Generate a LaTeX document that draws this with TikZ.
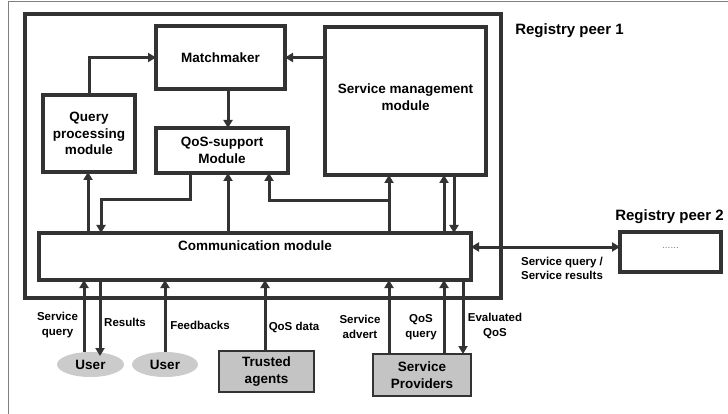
\documentclass[tikz,border=0pt]{standalone}
\usepackage{fontspec}
\setmainfont{Liberation Sans}
\usetikzlibrary{arrows.meta,shapes.geometric}
\definecolor{lc}{HTML}{333333}
\definecolor{fillg}{HTML}{C4C4C4}
\definecolor{fille}{HTML}{CBCBCB}
\begin{document}
\begin{tikzpicture}[x=1pt,y=-1pt,
  >={Triangle[length=8pt,width=9pt]},
  box/.style={draw=lc, line width=3.2pt, rectangle, inner sep=0pt, outer sep=0pt,
    align=center, font=\fontsize{13.5}{16.5}\selectfont\bfseries},
  ext/.style={draw=lc, line width=1.8pt, fill=fillg, rectangle, inner sep=0pt, outer sep=0pt,
    align=center, font=\fontsize{13.5}{16.5}\selectfont\bfseries},
  usr/.style={ellipse, fill=fille, inner sep=0pt, outer sep=0pt,
    font=\fontsize{13.5}{16.5}\selectfont\bfseries},
  arr/.style={draw=lc, line width=3pt, ->},
  lbl/.style={inner sep=0pt, align=center, font=\fontsize{11.5}{14.5}\selectfont\bfseries},
  ttl/.style={inner sep=0pt, font=\fontsize{15}{18}\selectfont\bfseries}]
\useasboundingbox (0,0) rectangle (728,414);
\draw[gray, line width=1pt] (8,414) -- (8,2) -- (728,2);

% registry peer 1 frame
\node[box, minimum width=476, minimum height=284] (rp1) at (263,156) {};
\node[ttl] (rp1t) at (569.5,31) {Registry peer 1};

% modules
\node[box, minimum width=129, minimum height=63] (mm) at (220.5,57.5) {Matchmaker};
\node[box, minimum width=92, minimum height=77] (qp) at (89,133.5) {Query\\processing\\module};
\node[box, minimum width=132, minimum height=45] (qos) at (222,150.5) {QoS-support\\Module};
\node[box, minimum width=161, minimum height=148] (sm) at (405.5,101) {};
\node[inner sep=0pt, align=center, font=\fontsize{13.5}{17}\selectfont\bfseries] (smt) at (405.5,97) {Service management\\module};
\node[box, minimum width=432, minimum height=47] (comm) at (255,256.5) {};
\node[inner sep=0pt, font=\fontsize{13.5}{16.5}\selectfont\bfseries] (commt) at (255,246) {Communication module};

% registry peer 2
\node[box, minimum width=101, minimum height=40] (rp2) at (670.5,252) {};
\node[inner sep=0pt, text=gray, font=\fontsize{10}{10}\selectfont] (dots) at (670.5,248) {......};
\node[ttl] (rp2t) at (669.5,217) {Registry peer 2};

% external actors
\node[usr, minimum width=67, minimum height=25] (u1) at (90.5,364.5) {User};
\node[usr, minimum width=66, minimum height=25] (u2) at (165,364.5) {User};
\node[ext, minimum width=95, minimum height=41] (ta) at (266.5,371.5) {Trusted\\agents};
\node[ext, minimum width=98, minimum height=42] (sp) at (422,375) {Service\\Providers};

% helper columns / rows
\coordinate (X84) at (84,0);
\coordinate (X88) at (88,0);
\coordinate (X100) at (100,0);
\coordinate (X101) at (101,0);
\coordinate (X190) at (190,0);
\coordinate (X228) at (228,0);
\coordinate (X265) at (265,0);
\coordinate (X269) at (269,0);
\coordinate (X389) at (389,0);
\coordinate (X444) at (444,0);
\coordinate (X454) at (454,0);
\coordinate (X463) at (463,0);
\coordinate (Y200) at (0,200);
\coordinate (Y201) at (0,201);
\coordinate (Y247) at (0,247);

% internal connectors
\draw[arr] (qp.north) |- (mm.west);
\draw[arr] (sm.west |- mm.east) -- (mm.east);
\draw[arr] (mm.south -| X228) -- (qos.north -| X228);
\draw[arr] (comm.north -| X88) -- (qp.south -| X88);
\draw[arr] (qos.south -| X190) -- (X190 |- Y200) -| (comm.north -| X101);
\draw[arr] (comm.north -| X228) -- (qos.south -| X228);
\draw[arr] (comm.north -| X389) -- (sm.south -| X389);
\draw[arr] (X389 |- Y201) -| (qos.south -| X269);
\draw[arr] (comm.north -| X444) -- (sm.south -| X444);
\draw[arr] (sm.south -| X454) -- (comm.north -| X454);
\draw[arr, <->] (comm.east |- Y247) -- (rp2.west |- Y247);
\node[lbl] (sqsr) at (562,268.5) {Service query /\\Service results};

% external connectors
\draw[arr] (u1.north -| X84) -- (comm.south -| X84);
\draw[arr] (comm.south -| X100) -- ([yshift=-4pt]u1.north -| X100);
\draw[arr] (u2.north) -- (comm.south -| u2.north);
\draw[arr] (ta.north -| X265) -- (comm.south -| X265);
\draw[arr] (sp.north -| X389) -- (comm.south -| X389);
\draw[arr] (sp.north -| X444) -- (comm.south -| X444);
\draw[arr] (comm.south -| X463) -- (sp.north -| X463);

\node[lbl] (l1) at (57.5,325) {Service\\query};
\node[lbl] (l2) at (125,322) {Results};
\node[lbl] (l3) at (200,325) {Feedbacks};
\node[lbl] (l4) at (294,327) {QoS data};
\node[lbl] (l5) at (360,327) {Service\\advert};
\node[lbl] (l6) at (421,327) {QoS\\query};
\node[lbl] (l7) at (495,326) {Evaluated\\QoS};
\end{tikzpicture}
\end{document}
